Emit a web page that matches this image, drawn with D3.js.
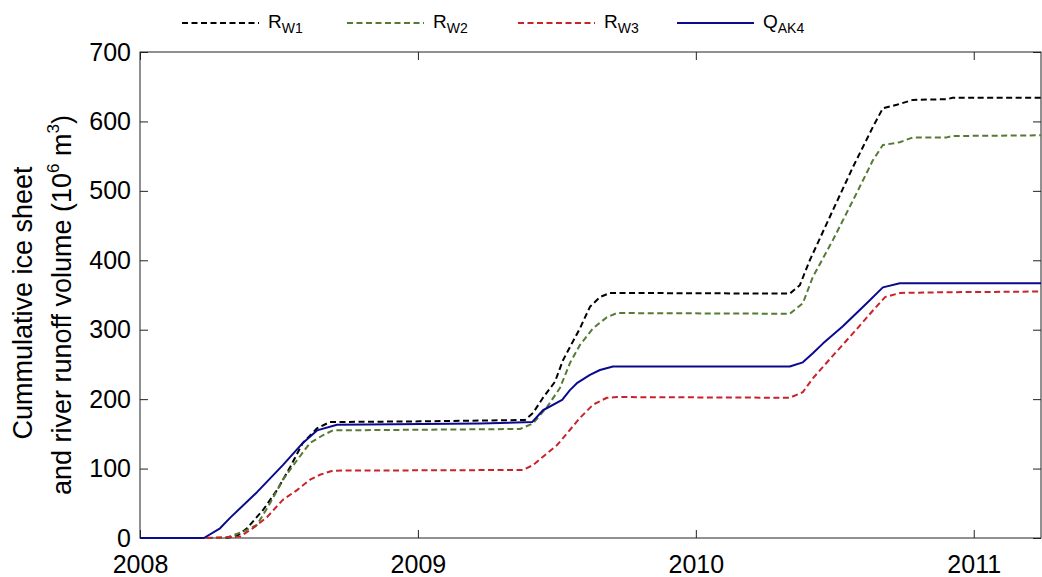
<!DOCTYPE html>
<html>
<head>
<meta charset="utf-8">
<script src="https://cdn.jsdelivr.net/npm/d3@7"></script>
<style>
body { margin: 0; background: #fff; }
text { font-family: "Liberation Sans", Arial, Helvetica, sans-serif; fill: #000; }
</style>
</head>
<body>
<svg id="chart" width="1042" height="577"></svg>
<script>
// decimal year / cumulative volume (10^6 m3)
var rW1Year = [2008, 2008.306, 2008.349, 2008.385, 2008.442, 2008.493, 2008.540, 2008.586, 2008.637, 2008.683, 2009.007, 2009.385, 2009.414, 2009.450, 2009.493, 2009.522, 2009.547, 2009.583, 2009.619, 2009.655, 2009.691, 2010.338, 2010.374, 2010.410, 2010.493, 2010.565, 2010.637, 2010.673, 2010.723, 2010.781, 2010.903, 2010.924, 2011.242];
var rW1Vals = [0, 0, 3, 14, 40, 69, 102, 137, 158, 167, 168, 170, 180, 202, 225, 256, 275, 302, 333, 347, 353, 352, 364, 400, 472, 534, 592, 619, 624, 631, 632, 634, 634];

var rW2Year = [2008, 2008.306, 2008.371, 2008.421, 2008.468, 2008.514, 2008.565, 2008.612, 2008.658, 2008.694, 2009.367, 2009.414, 2009.465, 2009.511, 2009.547, 2009.583, 2009.630, 2009.680, 2009.716, 2010.338, 2010.385, 2010.421, 2010.493, 2010.579, 2010.637, 2010.673, 2010.734, 2010.781, 2010.903, 2010.924, 2011.242];
var rW2Vals = [0, 0, 9, 19, 50, 84, 112, 137, 148, 155, 157, 165, 189, 216, 252, 278, 302, 318, 324, 323, 338, 376, 429, 497, 544, 566, 570, 577, 577, 579, 580];

var rW3Year = [2008, 2008.227, 2008.360, 2008.406, 2008.457, 2008.514, 2008.565, 2008.612, 2008.647, 2008.694, 2009.378, 2009.414, 2009.450, 2009.501, 2009.537, 2009.583, 2009.630, 2009.680, 2009.716, 2010.338, 2010.385, 2010.421, 2010.494, 2010.566, 2010.638, 2010.681, 2010.735, 2010.904, 2011.242];
var rW3Vals = [0, 0, 2, 14, 30, 55, 69, 84, 91, 97, 98, 105, 117, 134, 151, 173, 192, 202, 203, 202, 210, 230, 263, 295, 328, 347, 353, 354, 355];

var qAK4Year = [2008, 2008.230, 2008.288, 2008.324, 2008.421, 2008.514, 2008.586, 2008.637, 2008.709, 2009.223, 2009.411, 2009.450, 2009.519, 2009.547, 2009.572, 2009.619, 2009.655, 2009.702, 2010.338, 2010.385, 2010.421, 2010.457, 2010.529, 2010.615, 2010.673, 2010.734, 2011.242];
var qAK4Vals = [0, 0, 14, 29, 66, 105, 137, 155, 163, 165, 167, 184, 199, 213, 223, 235, 242, 247, 247, 253, 266, 280, 305, 338, 361, 367, 367];

var yearTicks = [2008, 2009, 2010, 2011];
var volTicks = [0, 100, 200, 300, 400, 500, 600, 700];

var seriesNames = [["R", "W1"], ["R", "W2"], ["R", "W3"], ["Q", "AK4"]];
var seriesColors = ["#000000", "#557a34", "#c8232a", "#0a0a8f"];
var seriesDash = ["6,3.5", "6,3.5", "6,3.5", null];

var svg = d3.select("#chart");
var pLeft = 140, pRight = 1041, pTop = 52, pBottom = 538;

var x = d3.scaleLinear().domain([2008, 2011.242]).range([pLeft, pRight]);
var y = d3.scaleLinear().domain([0, 700]).range([pBottom, pTop]);

function styleAxis(g, showText) {
    g.select(".domain").remove();
    g.attr("font-size", 25).attr("font-family", null);
    g.selectAll("line").attr("stroke", "#222").attr("stroke-width", 1);
    g.selectAll("text").attr("fill", "#000");
    if (!showText) {
        g.selectAll("text").remove();
    }
}

svg.append("g").attr("transform", "translate(0," + pBottom + ")")
    .call(d3.axisBottom(x).tickValues(yearTicks).tickFormat(d3.format("d")).tickSizeInner(-8).tickSizeOuter(0).tickPadding(17))
    .call(styleAxis, true);
svg.append("g").attr("transform", "translate(0," + pTop + ")")
    .call(d3.axisTop(x).tickValues(yearTicks).tickSizeInner(-8).tickSizeOuter(0))
    .call(styleAxis, false);
svg.append("g").attr("transform", "translate(" + pLeft + ",0)")
    .call(d3.axisLeft(y).tickValues(volTicks).tickSizeInner(-8).tickSizeOuter(0).tickPadding(9))
    .call(styleAxis, true);
svg.append("g").attr("transform", "translate(" + pRight + ",0)")
    .call(d3.axisRight(y).tickValues(volTicks).tickSizeInner(-8).tickSizeOuter(0))
    .call(styleAxis, false);

svg.append("rect")
    .attr("x", pLeft).attr("y", pTop)
    .attr("width", pRight - pLeft).attr("height", pBottom - pTop)
    .attr("fill", "none").attr("stroke", "#222").attr("stroke-width", 1);

var series = [
    [rW1Year, rW1Vals],
    [rW2Year, rW2Vals],
    [rW3Year, rW3Vals],
    [qAK4Year, qAK4Vals]
];

var line = d3.line()
    .x(function(d) { return x(d[0]); })
    .y(function(d) { return y(d[1]); });

series.forEach(function(s, i) {
    var pts = s[0].map(function(t, k) { return [t, s[1][k]]; });
    var p = svg.append("path")
        .attr("d", line(pts))
        .attr("fill", "none")
        .attr("stroke", seriesColors[i])
        .attr("stroke-width", 2)
        .attr("stroke-linejoin", "round");
    if (seriesDash[i]) p.attr("stroke-dasharray", seriesDash[i]);
});

// legend above the box
var legendX = [182, 347, 518, 677];
seriesNames.forEach(function(n, i) {
    var g = svg.append("g").attr("transform", "translate(" + legendX[i] + ",0)");
    var l = g.append("line")
        .attr("x1", 0).attr("x2", 77).attr("y1", 23).attr("y2", 23)
        .attr("stroke", seriesColors[i]).attr("stroke-width", 2);
    if (seriesDash[i]) l.attr("stroke-dasharray", seriesDash[i]);
    var t = g.append("text").attr("x", 86).attr("y", 28).style("font-size", "19px");
    t.append("tspan").text(n[0]);
    t.append("tspan").style("font-size", "14px").attr("dy", 5).text(n[1]);
});

// y axis title, two lines
var yt = svg.append("text")
    .attr("transform", "translate(32,303) rotate(-90)")
    .attr("text-anchor", "middle")
    .style("font-size", "27px");
yt.append("tspan").text("Cummulative ice sheet");
var yt2 = svg.append("text")
    .attr("transform", "translate(71,305) rotate(-90)")
    .attr("text-anchor", "middle")
    .style("font-size", "27px");
yt2.append("tspan").text("and river runoff volume (10");
yt2.append("tspan").style("font-size", "17px").attr("dy", -12).text("6");
yt2.append("tspan").attr("dy", 12).text(" m");
yt2.append("tspan").style("font-size", "17px").attr("dy", -12).text("3");
yt2.append("tspan").attr("dy", 12).text(")");
</script>
</body>
</html>
